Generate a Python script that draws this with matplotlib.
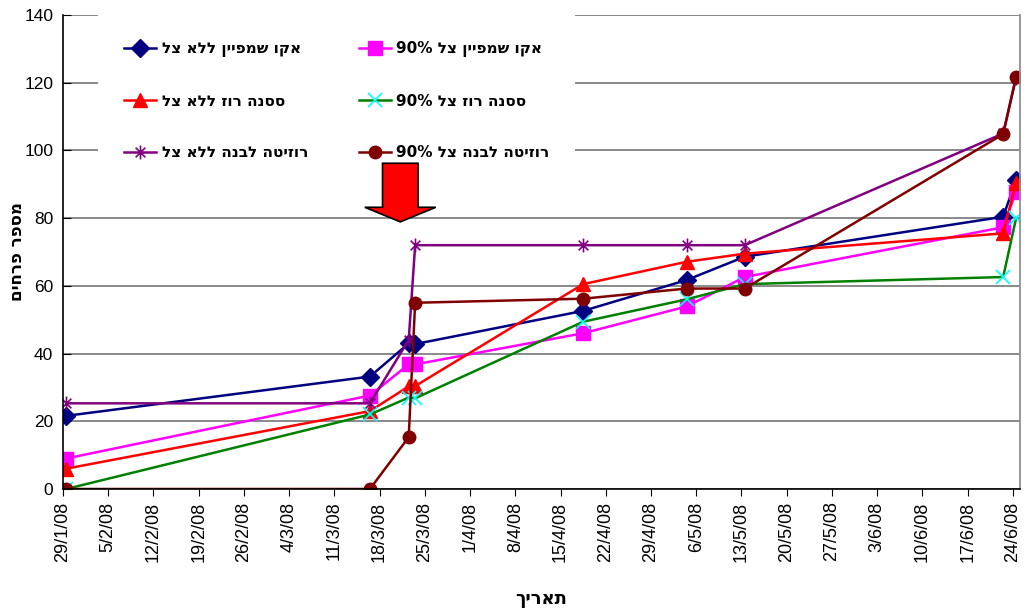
import datetime as dt
import matplotlib
matplotlib.use("Agg")
import matplotlib.pyplot as plt
import matplotlib.dates as mdates
from matplotlib.patches import Polygon
from matplotlib.path import Path

plt.rcParams['font.family'] = ['Liberation Sans', 'DejaVu Sans']
narrow = ['Liberation Sans Narrow', 'DejaVu Sans Condensed', 'DejaVu Sans']

# sampling dates (2008)
dates = ["2008-01-29", "2008-03-16", "2008-03-22", "2008-03-23", "2008-04-18",
         "2008-05-04", "2008-05-13", "2008-06-22", "2008-06-24"]

echo_no_shade = [21.6, 33.2, 43.0, 42.8, 52.6, 61.7, 68.6, 80.4, 91.3]
echo_shade90 = [9.0, 27.6, 36.8, 36.8, 46.0, 53.9, 62.6, 77.3, 87.8]
rose_no_shade = [6.0, 23.0, 30.3, 30.4, 60.5, 67.1, 69.5, 75.5, 90.5]
rose_shade90 = [0.0, 22.0, 27.0, 26.8, 49.4, 56.0, 60.5, 62.6, 80.0]
rosita_no_shade = [25.3, 25.3, 44.0, 72.0, 72.0, 72.0, 72.0, 105.0, 121.5]
rosita_shade90 = [0.0, 0.0, 15.3, 55.0, 56.2, 59.2, 59.2, 104.8, 121.8]

labels = ["אקו שמפיין ללא צל", "אקו שמפיין צל 90%",
          "ססנה רוז ללא צל", "ססנה רוז צל 90%",
          "רוזיטה לבנה ללא צל", "רוזיטה לבנה צל 90%"]

y_ticks = [0, 20, 40, 60, 80, 100, 120, 140]


def visual(s):
    # matplotlib has no bidi support: flip word order and hebrew words
    out = []
    for w in reversed(s.split(' ')):
        if any('\u0590' <= c <= '\u05ff' for c in w):
            out.append(w[::-1])
        else:
            out.append(w)
    return ' '.join(out)


# excel style asterisk: vertical bar plus an X
star = Path([(0, -1), (0, 1), (-0.7, -0.7), (0.7, 0.7), (-0.7, 0.7), (0.7, -0.7)],
            [Path.MOVETO, Path.LINETO, Path.MOVETO, Path.LINETO, Path.MOVETO, Path.LINETO])

x = mdates.date2num([dt.datetime.strptime(d, "%Y-%m-%d") for d in dates])

fig = plt.figure(figsize=(10.31, 6.11), dpi=100)
ax = fig.add_axes([0.0611, 0.1997, 0.9282, 0.7758])

lw = 1.8
l1, = ax.plot(x, echo_no_shade, color='#000080', lw=lw, marker='D', ms=9, label=visual(labels[0]))
l2, = ax.plot(x, echo_shade90, color='#FF00FF', lw=lw, marker='s', ms=9.5, label=visual(labels[1]))
l3, = ax.plot(x, rose_no_shade, color='#FF0000', lw=lw, marker='^', ms=10, label=visual(labels[2]))
l4, = ax.plot(x, rose_shade90, color='#008000', lw=lw, marker='x', ms=10.5, mew=1.2,
              mec='#00FFFF', label=visual(labels[3]))
l5, = ax.plot(x, rosita_no_shade, color='#800080', lw=lw, marker=star, ms=10, mew=1.2,
              label=visual(labels[4]))
l6, = ax.plot(x, rosita_shade90, color='#800000', lw=lw, marker='o', ms=9, label=visual(labels[5]))

# weekly date axis
start = dt.datetime(2008, 1, 29)
weeks = [start + dt.timedelta(days=7 * i) for i in range(22)]
tick_pos = mdates.date2num(weeks) - 0.5
ax.set_xticks(tick_pos)
ax.set_xticklabels([f"{d.day}/{d.month}/{d.strftime('%y')}" for d in weeks], rotation=90, fontsize=13)
ax.set_xlim(tick_pos[0], tick_pos[-1] + 1.1)

ax.set_ylim(0, 140)
ax.set_yticks(y_ticks)
ax.tick_params(axis='y', direction='in', length=6, labelsize=12.5, pad=7)
ax.tick_params(axis='x', direction='out', length=5, pad=4)
ax.grid(axis='y', color='#808080', lw=1.3)
ax.set_axisbelow(True)

ax.spines['top'].set_visible(False)
ax.spines['right'].set_color('#909090')
ax.spines['right'].set_linewidth(1.3)
for s in ('left', 'bottom'):
    ax.spines[s].set_color('black')
    ax.spines[s].set_linewidth(1.2)

ax.set_xlabel(visual("תאריך"), fontsize=13, fontweight='bold', labelpad=20, family=narrow)
ax.set_ylabel(visual("מספר פרחים"), fontsize=12, fontweight='bold', family=narrow)
ax.yaxis.set_label_coords(-0.039, 0.5)

leg = ax.legend(handles=[l1, l3, l5, l2, l4, l6], ncol=2, loc='upper left',
                bbox_to_anchor=(0.037, 1.0), borderaxespad=0, frameon=True,
                facecolor='white', edgecolor='none', framealpha=1, fancybox=False,
                borderpad=1.7, labelspacing=2.4, columnspacing=3.3,
                handlelength=2.1, handletextpad=0.35,
                prop={'size': 11, 'weight': 'bold', 'family': narrow})
leg.set_zorder(5)

# big red arrow marking the shading date
ax_x0 = mdates.date2num(start)
cx = ax_x0 + 51.7
arrow = Polygon([(cx - 2.75, 96.2), (cx + 2.75, 96.2), (cx + 2.75, 83.2), (cx + 5.5, 83.2),
                 (cx, 78.9), (cx - 5.5, 83.2), (cx - 2.75, 83.2)],
                closed=True, facecolor='#FF0000', edgecolor='black', lw=1.2, zorder=6)
ax.add_patch(arrow)

fig.savefig("out.png", dpi=100)
